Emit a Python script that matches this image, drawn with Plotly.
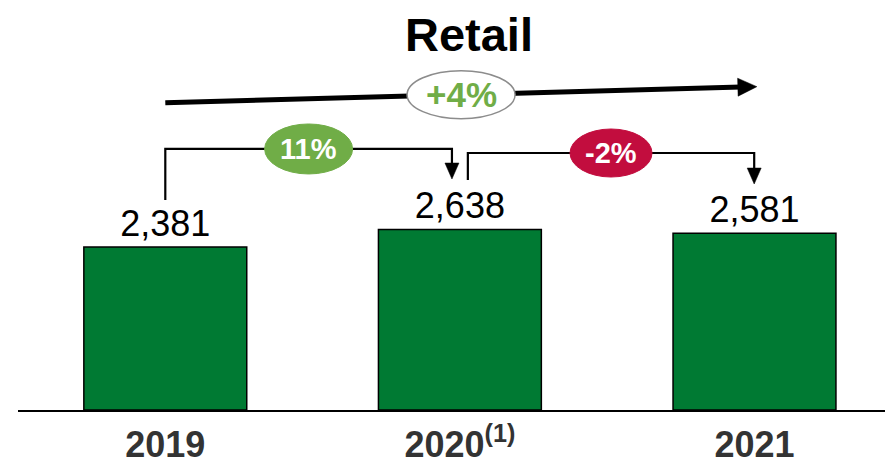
import math
import plotly.graph_objects as go

# Retail volumes by year
years = ["2019", "2020<sup>(1)</sup>", "2021"]
values = [2381, 2638, 2581]
value_labels = ["2,381", "2,638", "2,581"]

# Growth callouts
total_growth = "+4%"
step_growth = ["11%", "-2%"]

FONT = "Liberation Sans, Arial, sans-serif"
BAR_GREEN = "#007A33"
LIGHT_GREEN = "#70AD47"
RED = "#C20D3E"

W, H = 885, 468
ML, MR, MT, MB = 18, 0, 0, 58
X_RANGE = [-0.5, 2.443]
Y_RANGE = [0, 5989]
PX_X = (W - ML - MR) / (X_RANGE[1] - X_RANGE[0])   # pixels per category unit
PX_Y = (H - MT - MB) / (Y_RANGE[1] - Y_RANGE[0])   # pixels per value unit

fig = go.Figure()
fig.add_trace(go.Bar(
    x=list(range(len(values))),
    y=values,
    width=0.553,
    marker=dict(color=BAR_GREEN, line=dict(color="black", width=1.5)),
    text=value_labels,
    textposition="outside",
    textfont=dict(family=FONT, size=36, color="black"),
    cliponaxis=False,
    hoverinfo="skip",
))

shapes = []
annotations = []


def arrow_head(x_tip, y_tip, dx, dy, length_px, width_px):
    """Filled triangle whose tip sits at (x_tip, y_tip), pointing along (dx, dy) in data units."""
    vx, vy = dx * PX_X, dy * PX_Y
    n = math.hypot(vx, vy)
    ux, uy = vx / n, vy / n
    bx, by = -ux * length_px, -uy * length_px
    px, py = -uy * width_px / 2, ux * width_px / 2
    pts = [(0, 0), (bx + px, by + py), (bx - px, by - py)]
    coords = [(x_tip + a / PX_X, y_tip + b / PX_Y) for a, b in pts]
    path = "M %f,%f L %f,%f L %f,%f Z" % tuple(c for p in coords for c in p)
    return dict(type="path", xref="x", yref="y", path=path,
                fillcolor="black", line=dict(color="black", width=0.5))


# Overall trend arrow from first to last year
tx0, ty0, tx1, ty1 = 0.0, 4489, 2.008, 4723
back = 16 / PX_X
shapes.append(dict(type="line", xref="x", yref="y", x0=tx0, y0=ty0, x1=tx1 - back,
                   y1=ty1 - (ty1 - ty0) * back / (tx1 - tx0),
                   line=dict(color="black", width=5)))
shapes.append(arrow_head(tx1, ty1, tx1 - tx0, ty1 - ty0, 19, 18))
mid_x = (tx0 + tx1) / 2
mid_y = (ty0 + ty1) / 2
shapes.append(dict(type="circle", xref="x", yref="y",
                   xsizemode="pixel", ysizemode="pixel",
                   xanchor=mid_x, yanchor=mid_y, x0=-54, x1=54, y0=-24, y1=24,
                   fillcolor="white", line=dict(color="#8c8c8c", width=1.5)))
annotations.append(dict(x=mid_x, y=mid_y, xref="x", yref="y", text="<b>%s</b>" % total_growth,
                        showarrow=False, font=dict(family=FONT, size=35, color=LIGHT_GREEN)))

# Year-over-year brackets
brackets = [
    # start x, bottom, top, end x, arrow tip, badge colour, badge half sizes
    (0.0, 3067, 3813, 0.973, 3374, LIGHT_GREEN, 44, 25),
    (1.027, 3360, 3754, 1.999, 3301, RED, 41, 24),
]
for (bx0, by0, byh, bx1, btip, col, rw, rh), label in zip(brackets, step_growth):
    head_len = 16 / PX_Y
    shapes.append(dict(type="path", xref="x", yref="y",
                       path="M %f,%f L %f,%f L %f,%f L %f,%f" % (
                           bx0, by0, bx0, byh, bx1, byh, bx1, btip + head_len * 0.8),
                       line=dict(color="black", width=2.2)))
    shapes.append(arrow_head(bx1, btip, 0, -1, 16, 14))
    cx = (bx0 + bx1) / 2
    shapes.append(dict(type="circle", xref="x", yref="y",
                       xsizemode="pixel", ysizemode="pixel",
                       xanchor=cx, yanchor=byh, x0=-rw, x1=rw, y0=-rh, y1=rh,
                       fillcolor=col, line=dict(color=col, width=1)))
    annotations.append(dict(x=cx, y=byh, xref="x", yref="y", text="<b>%s</b>" % label,
                            showarrow=False, font=dict(family=FONT, size=29, color="white")))

# Title
annotations.append(dict(x=1.03, y=1.0, xref="x", yref="paper", yanchor="bottom",
                        yshift=-63, text="<b>Retail</b>", showarrow=False,
                        font=dict(family=FONT, size=47, color="black")))

fig.update_layout(
    width=W, height=H,
    margin=dict(l=ML, r=MR, t=MT, b=MB, autoexpand=False),
    paper_bgcolor="white", plot_bgcolor="white",
    showlegend=False,
    shapes=shapes,
    annotations=annotations,
    xaxis=dict(range=X_RANGE, tickmode="array", tickvals=list(range(len(years))),
               ticktext=["<b>%s</b>" % y for y in years],
               tickfont=dict(family=FONT, size=36, color="#333333"),
               ticklabelstandoff=2, automargin=False,
               showline=True, linecolor="black", linewidth=2, ticks="",
               showgrid=False, zeroline=False, fixedrange=True),
    yaxis=dict(range=Y_RANGE, visible=False, fixedrange=True, automargin=False),
)

fig.write_html("out.html")
